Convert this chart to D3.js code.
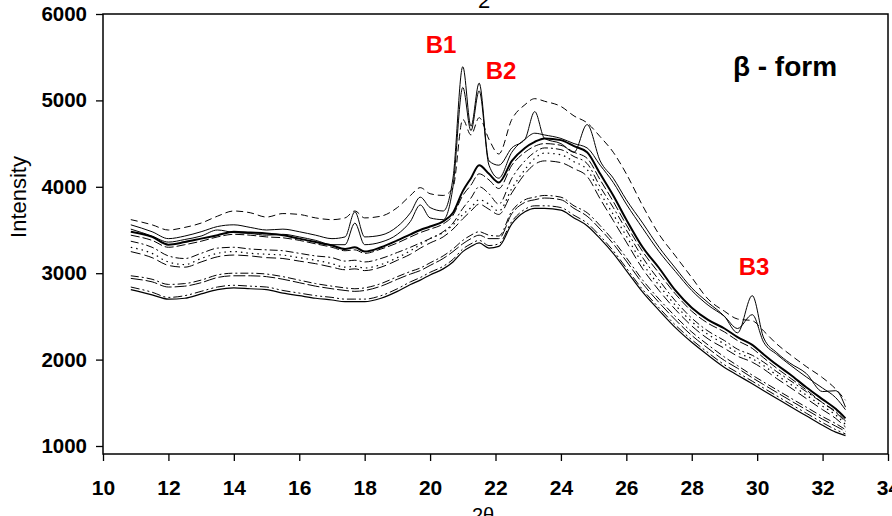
<!DOCTYPE html>
<html><head><meta charset="utf-8">
<script src="https://cdn.jsdelivr.net/npm/d3@7/dist/d3.min.js"></script>
<style>html,body{margin:0;padding:0;background:#fff;}svg{display:block;}</style>
</head><body><svg id="c" width="892" height="516"></svg>
<script>
// 2-theta positions (shared by all patterns)
const twoTheta = [10.85,11.5,12,12.5,13,13.5,14,14.5,15,15.5,16,16.5,17,17.4,17.7,18,18.5,19,19.4,19.7,20,20.4,20.7,21.0,21.25,21.5,21.8,22.1,22.5,22.9,23.2,23.5,24,24.4,24.8,25.2,25.6,26,26.5,27,27.5,28,28.5,29,29.4,29.85,30.2,30.6,31,31.5,32,32.4,32.7];

const xTicks = [10,12,14,16,18,20,22,24,26,28,30,32,34];
const yTicks = [1000,2000,3000,4000,5000,6000];

// Intensity series
const seriesA1 = [3620,3560,3500,3530,3580,3660,3720,3700,3650,3690,3680,3640,3620,3640,3720,3640,3660,3760,3900,3990,3920,3900,3990,4780,4600,4800,4550,4380,4780,4950,5020,4990,4930,4820,4740,4580,4400,4150,3780,3450,3200,2950,2700,2560,2470,2450,2330,2180,2060,1920,1790,1660,1530];
const seriesP1 = [3560,3480,3400,3430,3480,3540,3560,3530,3500,3510,3480,3440,3400,3420,3710,3420,3440,3540,3700,3880,3760,3720,4100,5390,4700,5200,4300,4250,4450,4550,4870,4560,4500,4400,4720,4300,4100,3850,3580,3300,3060,2830,2660,2500,2310,2740,2250,2080,1960,1840,1630,1640,1450];
const seriesP2 = [3510,3430,3360,3390,3430,3500,3470,3460,3440,3450,3420,3380,3330,3330,3580,3330,3360,3450,3600,3790,3640,3620,4000,5150,4650,5110,4250,4100,4400,4550,4620,4600,4560,4500,4450,4250,4050,3800,3520,3250,3020,2800,2630,2500,2360,2520,2200,2060,1940,1800,1670,1560,1420];
const seriesThick = [3480,3420,3330,3360,3400,3440,3480,3470,3460,3440,3400,3360,3320,3280,3300,3250,3300,3380,3450,3500,3540,3600,3700,3950,4100,4250,4150,4050,4300,4450,4520,4560,4540,4470,4400,4150,3900,3620,3300,3060,2800,2600,2460,2360,2260,2170,2060,1940,1830,1680,1540,1430,1320];
const seriesA4 = [3440,3380,3300,3330,3370,3420,3450,3440,3420,3410,3380,3340,3300,3260,3270,3230,3280,3350,3420,3470,3510,3570,3670,3900,4020,4150,4080,3980,4250,4400,4470,4500,4480,4400,4330,4080,3830,3560,3250,3000,2760,2560,2420,2320,2220,2130,2020,1900,1790,1650,1500,1390,1280];
const seriesB1 = [3370,3300,3200,3170,3230,3290,3300,3280,3270,3260,3230,3200,3180,3140,3150,3130,3170,3240,3300,3350,3400,3480,3580,3750,3870,4000,3920,3800,4100,4300,4400,4450,4430,4350,4270,4000,3760,3500,3180,2920,2680,2480,2330,2220,2120,2050,1970,1860,1760,1630,1500,1400,1290];
const seriesB2 = [3300,3230,3130,3100,3170,3230,3250,3230,3220,3210,3180,3150,3110,3070,3080,3060,3100,3180,3260,3330,3400,3470,3560,3680,3760,3850,3800,3720,3980,4200,4330,4390,4370,4290,4200,3930,3680,3430,3110,2860,2630,2440,2290,2180,2080,2010,1930,1820,1720,1590,1460,1360,1250];
const seriesB3 = [3250,3180,3090,3070,3130,3190,3210,3200,3180,3170,3140,3110,3070,3040,3050,3030,3070,3150,3220,3290,3350,3420,3510,3630,3720,3800,3740,3680,3930,4150,4260,4300,4280,4210,4120,3860,3610,3360,3050,2800,2580,2390,2240,2130,2040,1970,1890,1780,1680,1550,1420,1320,1220];
const seriesC1 = [2970,2930,2870,2880,2920,2980,3000,3000,2990,2960,2920,2880,2850,2830,2820,2830,2880,2960,3020,3060,3120,3200,3280,3380,3440,3480,3440,3430,3720,3850,3880,3900,3880,3780,3700,3550,3380,3180,2920,2700,2500,2320,2170,2030,1930,1820,1740,1650,1560,1450,1340,1260,1190];
const seriesC2 = [2940,2900,2840,2850,2890,2950,2970,2970,2960,2930,2890,2850,2820,2800,2790,2800,2850,2930,2990,3030,3090,3170,3250,3340,3400,3440,3400,3400,3690,3820,3850,3870,3850,3750,3660,3510,3340,3140,2880,2660,2460,2280,2130,1990,1900,1790,1710,1620,1530,1420,1310,1230,1170];
const seriesC3 = [2840,2780,2720,2740,2790,2840,2860,2850,2840,2800,2770,2740,2720,2700,2700,2700,2740,2820,2900,2950,3010,3080,3160,3280,3340,3380,3320,3340,3600,3740,3780,3780,3760,3670,3580,3430,3260,3060,2810,2600,2400,2230,2080,1940,1850,1750,1670,1580,1490,1380,1270,1190,1140];
const seriesC4 = [2810,2750,2700,2710,2760,2810,2830,2820,2810,2770,2740,2710,2690,2670,2670,2670,2710,2790,2870,2920,2980,3050,3130,3250,3310,3350,3290,3310,3570,3710,3750,3750,3730,3640,3550,3400,3230,3030,2780,2570,2370,2200,2050,1910,1820,1720,1640,1550,1460,1350,1240,1160,1120];

const series = [
  {v: seriesA1, w: 1, dash: "7,4"},
  {v: seriesP1, w: 1, dash: null},
  {v: seriesP2, w: 1, dash: null},
  {v: seriesThick, w: 2, dash: null},
  {v: seriesA4, w: 1, dash: "9,3"},
  {v: seriesB1, w: 1, dash: "8,3,2,3"},
  {v: seriesB2, w: 1.2, dash: "1.5,4"},
  {v: seriesB3, w: 1, dash: "10,4"},
  {v: seriesC1, w: 1, dash: "8,3,2,3"},
  {v: seriesC2, w: 1, dash: "12,3"},
  {v: seriesC3, w: 1, dash: "9,3,2,3,2,3"},
  {v: seriesC4, w: 1.2, dash: null}
];

(function(){
const svg = d3.select("#c");
const mLeft = 103, mRight = 888, mTop = 14, mBottom = 454;
const x = d3.scaleLinear().domain([10,34]).range([mLeft,mRight]);
const y = d3.scaleLinear().domain([1000,6000]).range([446,mTop]);
const FONT = "Liberation Sans, Arial, sans-serif";

svg.append("rect").attr("x",mLeft).attr("y",mTop).attr("width",mRight-mLeft).attr("height",mBottom-mTop)
  .attr("fill","none").attr("stroke","#000").attr("stroke-width",1.5);

const xAxis = svg.append("g").attr("transform",`translate(0,${mBottom})`)
  .call(d3.axisBottom(x).tickValues(xTicks).tickSize(7).tickPadding(19).tickFormat(d3.format("d")));
xAxis.select(".domain").remove();
xAxis.selectAll("line").attr("stroke","#000").attr("stroke-width",1.3);
xAxis.selectAll("text").attr("font-family",FONT).attr("font-size",21).attr("font-weight","bold").attr("fill","#000");

const yAxis = svg.append("g").attr("transform",`translate(${mLeft},0)`)
  .call(d3.axisLeft(y).tickValues(yTicks).tickSize(7).tickPadding(9).tickFormat(d3.format("d")));
yAxis.select(".domain").remove();
yAxis.selectAll("line").attr("stroke","#000").attr("stroke-width",1.3);
yAxis.selectAll("text").attr("font-family",FONT).attr("font-size",20.5).attr("font-weight","bold").attr("fill","#000");

const line = d3.line().x((d,i)=>x(twoTheta[i])).y(d=>y(d)).curve(d3.curveMonotoneX);
svg.append("g").selectAll("path").data(series).join("path")
  .attr("d", s => line(s.v))
  .attr("fill","none").attr("stroke","#000")
  .attr("stroke-width", s => s.w)
  .attr("stroke-dasharray", s => s.dash);

svg.append("text").attr("x",20).attr("y",197).attr("transform","rotate(-90,20,197)")
  .attr("text-anchor","middle").attr("dominant-baseline","middle")
  .attr("font-family",FONT).attr("font-size",22).text("Intensity");
svg.append("text").attr("x",483).attr("y",522).attr("text-anchor","middle")
  .attr("font-family",FONT).attr("font-size",20).text("2θ");
svg.append("text").attr("x",484).attr("y",8).attr("text-anchor","middle")
  .attr("font-family",FONT).attr("font-size",22).text("2");

const ann = [
  {t:"B1", x:441, y:53, c:"#ff0000", s:24},
  {t:"B2", x:501, y:79, c:"#ff0000", s:24},
  {t:"B3", x:754, y:275, c:"#ff0000", s:24},
  {t:"β - form", x:785, y:76, c:"#000", s:28}
];
svg.append("g").selectAll("text").data(ann).join("text")
  .attr("x",d=>d.x).attr("y",d=>d.y).attr("text-anchor","middle")
  .attr("font-family",FONT).attr("font-weight","bold")
  .attr("font-size",d=>d.s).attr("fill",d=>d.c).text(d=>d.t);
})();
</script></body></html>
